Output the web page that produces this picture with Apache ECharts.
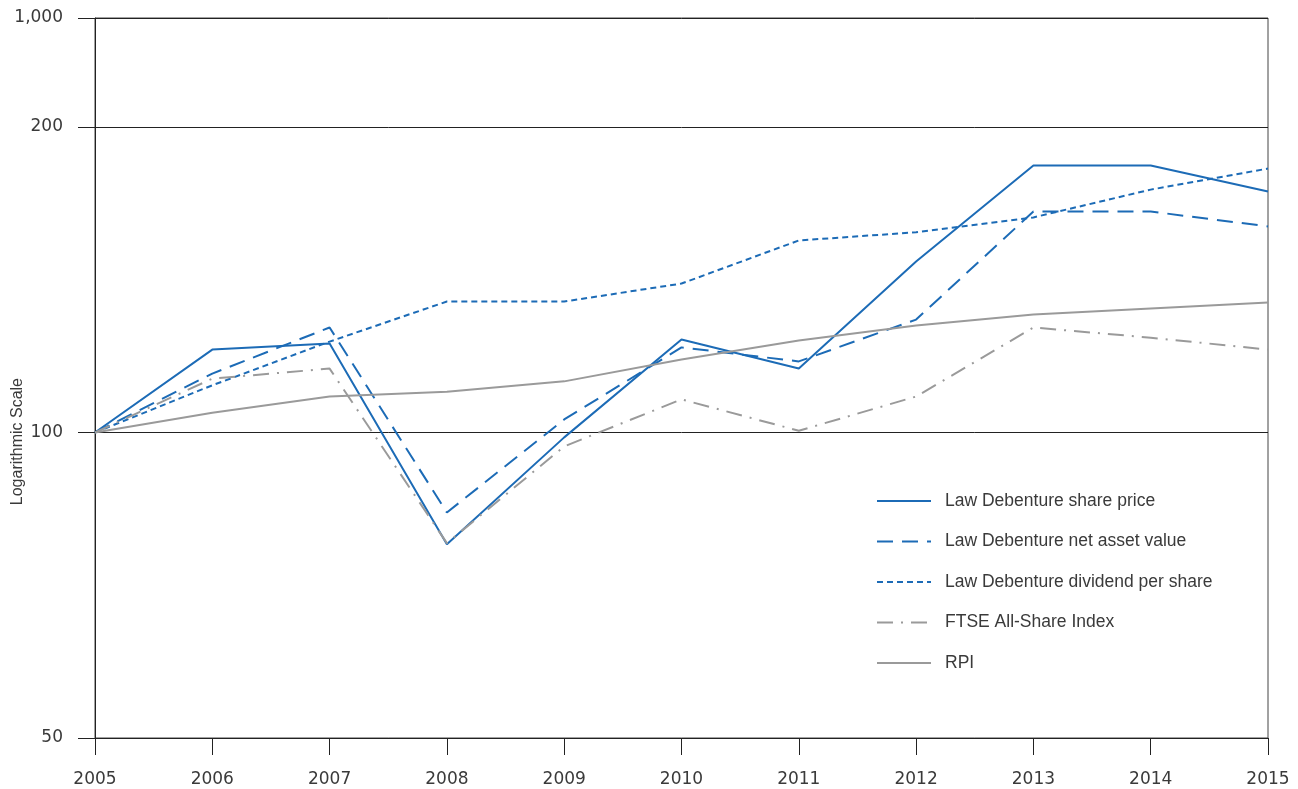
<!DOCTYPE html>
<html>
<head>
<meta charset="utf-8">
<script src="https://cdn.jsdelivr.net/npm/echarts@6/dist/echarts.min.js"></script>
<style>
  html, body { margin: 0; padding: 0; background: #fff; }
  #chart { width: 1298px; height: 789px; }
</style>
</head>
<body>
<div id="chart"></div>
<script>
var years = ['2005', '2006', '2007', '2008', '2009', '2010', '2011', '2012', '2013', '2014', '2015'];

var sharePrice = [100, 120.7, 122.4, 77.6, 98.9, 123.5, 115.6, 147.4, 183.3, 183.3, 172.8];
var netAssetValue = [100, 114.3, 126.9, 83.4, 103.0, 121.3, 117.5, 129.2, 165.1, 165.1, 159.6];
var dividendPerShare = [100, 111.3, 122.9, 134.6, 134.6, 140.2, 154.6, 157.5, 162.9, 173.5, 182.0];
var ftseAllShare = [100, 113.0, 115.6, 77.8, 96.9, 107.8, 100.4, 108.5, 126.9, 124.0, 120.7];
var rpi = [100, 104.6, 108.5, 109.7, 112.3, 118.0, 123.2, 127.5, 130.7, 132.5, 134.3];

// the printed axis squeezes 200..1,000 into the top strip
var yTicks = [50, 100, 200, 256.1];
var yTopLabel = '1,000';

var blue = '#1c6bb6';
var grey = '#9a9a9a';
var tickFont = 'DejaVu Sans';
var textFont = 'Liberation Sans';

var chartDom = document.getElementById('chart');
var myChart = echarts.init(chartDom);

function serie(name, dados, cor, tipo) {
  return {
    name: name,
    type: 'line',
    data: dados,
    symbol: 'none',
    lineStyle: { color: cor, width: 2, type: tipo },
    itemStyle: { color: cor },
    emphasis: { disabled: true }
  };
}

var option = {
  animation: false,
  grid: {
    left: 95, right: 30, top: 18, bottom: 51,
    outerBoundsMode: 'none',
    containLabel: false,
    show: true, borderColor: '#444', borderWidth: 1
  },
  legend: {
    orient: 'vertical',
    left: 871,
    top: 487,
    itemWidth: 54,
    itemHeight: 14,
    itemGap: 22.5,
    itemStyle: { color: 'rgba(0,0,0,0)', borderWidth: 0 },
    textStyle: { fontFamily: textFont, fontSize: 17.5, color: '#3a3a3a', padding: [0, 0, 0, 9] },
    data: [
      'Law Debenture share price',
      'Law Debenture net asset value',
      'Law Debenture dividend per share',
      'FTSE All-Share Index',
      'RPI'
    ]
  },
  xAxis: {
    type: 'category',
    data: years,
    boundaryGap: false,
    axisLine: { lineStyle: { color: '#222', width: 1 } },
    axisTick: { alignWithLabel: true, length: 17, lineStyle: { color: '#222' } },
    axisLabel: { fontFamily: tickFont, fontSize: 17, color: '#3a3a3a', margin: 33 },
    splitLine: { show: false }
  },
  yAxis: {
    type: 'log',
    logBase: 2,
    min: 50,
    max: 256.1,
    name: 'Logarithmic Scale',
    nameLocation: 'middle',
    nameGap: 69,
    nameMoveOverlap: false,
    nameTextStyle: { fontFamily: textFont, fontSize: 16, color: '#3a3a3a', align: 'right' },
    axisLine: { show: true, lineStyle: { color: '#222', width: 1 } },
    axisTick: { show: true, length: 17, customValues: yTicks, lineStyle: { color: '#222' } },
    axisLabel: {
      fontFamily: tickFont, fontSize: 17, color: '#3a3a3a', margin: 32,
      padding: [4, 0, 0, 0],
      customValues: yTicks,
      formatter: function (v) { return v > 250 ? yTopLabel : String(Math.round(v)); }
    },
    splitLine: { show: true, lineStyle: { color: '#222', width: 1 } }
  },
  series: [
    serie('Law Debenture share price', sharePrice, blue, 'solid'),
    serie('Law Debenture net asset value', netAssetValue, blue, [16, 9]),
    serie('Law Debenture dividend per share', dividendPerShare, blue, [6, 4]),
    serie('FTSE All-Share Index', ftseAllShare, grey, [16, 8, 2, 8]),
    serie('RPI', rpi, grey, 'solid')
  ]
};

option && myChart.setOption(option);
</script>
</body>
</html>
